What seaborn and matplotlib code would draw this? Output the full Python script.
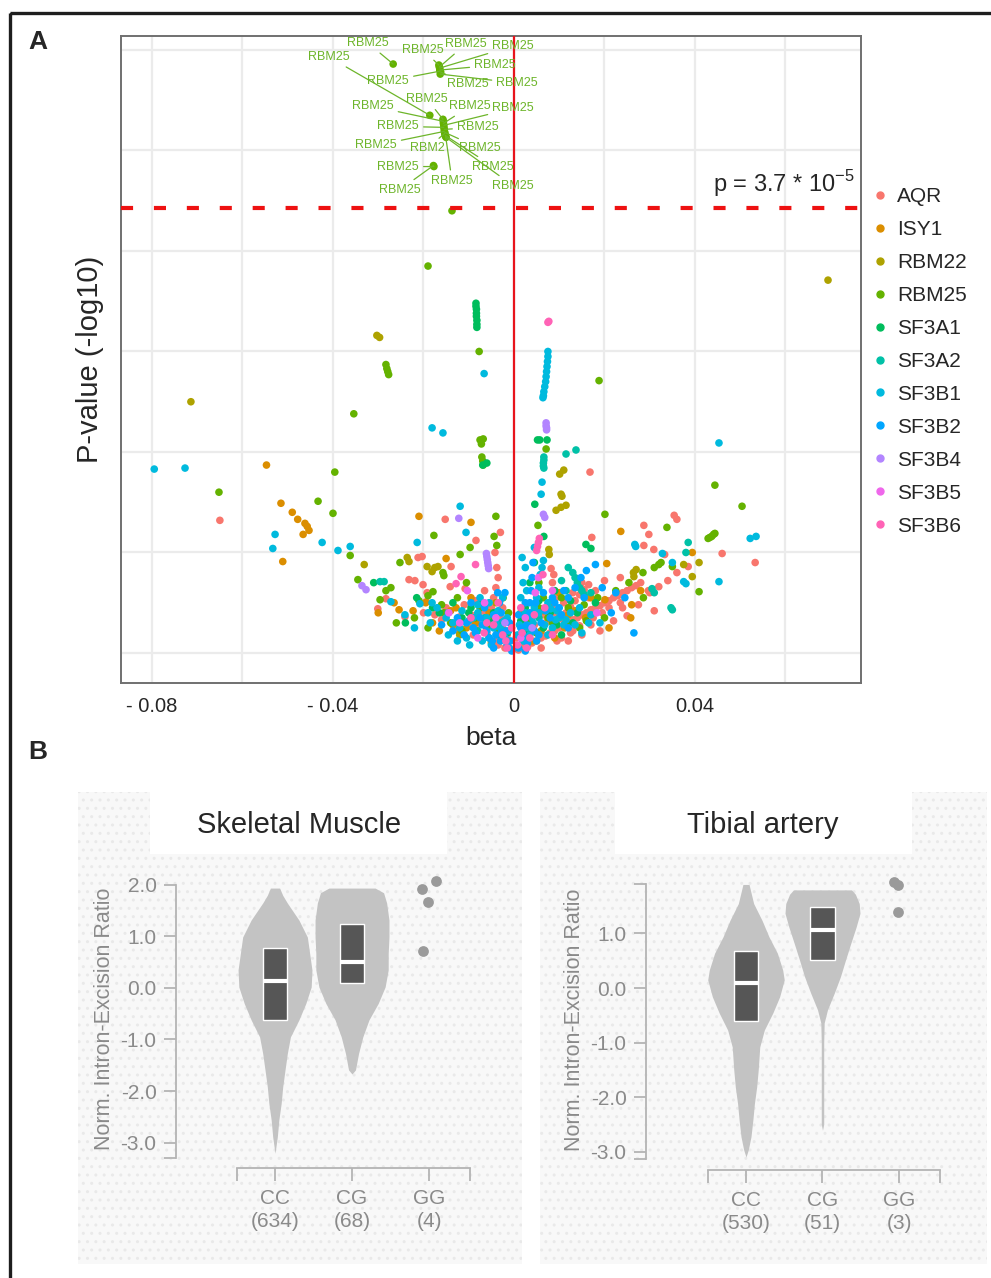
import numpy as np
import pandas as pd
import seaborn as sns
import matplotlib.pyplot as plt
from matplotlib.patches import Rectangle
from matplotlib.lines import Line2D

sns.set_style("white")
plt.rcParams["font.family"] = ["Liberation Sans", "DejaVu Sans"]

# ---------------- panel A data (beta, -log10 p) ----------------
genes = ["AQR", "ISY1", "RBM22", "RBM25", "SF3A1", "SF3A2",
         "SF3B1", "SF3B2", "SF3B4", "SF3B5", "SF3B6"]
gene_colors = ["#F8766D", "#DB8E00", "#AEA200", "#64B200", "#00BD5C", "#00C1A7",
               "#00BADE", "#00A6FF", "#B385FF", "#EF67EB", "#FF63B6"]

AQR = [(-0.065, 1.32), (-0.0152, 1.33), (-0.0084, 1.12), (0.0168, 1.80), (0.0354, 1.37), (0.0360, 1.33),
       (0.0460, 0.99), (0.0533, 0.90), (0.0287, 1.27), (0.0298, 1.18), (0.0287, 1.07), (0.0309, 1.03),
       (0.0172, 1.15), (0.0333, 0.98), (0.0297, 0.62), (-0.0301, 0.44), (-0.0283, 0.54), (-0.0241, 0.36),
       (-0.0232, 0.73), (-0.0219, 0.72), (-0.0212, 0.95), (-0.0203, 0.96), (-0.0201, 0.68), (-0.0192, 0.60),
       (-0.0194, 0.51), (-0.0139, 0.86), (-0.0141, 0.66), (-0.0108, 0.64),
       (0.004, 0.10), (0.006, 0.15), (0.008, 0.20), (0.010, 0.25), (0.012, 0.30), (0.014, 0.35),
       (0.016, 0.40), (0.018, 0.45), (0.020, 0.50), (0.022, 0.55), (0.024, 0.60), (0.026, 0.65), (0.028, 0.70),
       (0.005, 0.12), (0.007, 0.17), (0.009, 0.22), (0.011, 0.27), (0.013, 0.33), (0.015, 0.38),
       (0.017, 0.43), (0.019, 0.47), (0.021, 0.52), (0.023, 0.57), (0.025, 0.62), (0.027, 0.67),
       (0.0105, 0.34), (0.0115, 0.40), (0.0125, 0.46), (0.0135, 0.52), (0.0145, 0.58), (0.0155, 0.63),
       (0.0165, 0.68), (0.0082, 0.84), (0.0088, 0.78), (0.0085, 0.70), (0.0090, 0.62), (0.0093, 0.55),
       (0.0080, 0.50), (-0.004, 0.12), (-0.006, 0.20), (-0.008, 0.28), (-0.003, 0.35), (-0.005, 0.45),
       (-0.0045, 0.55), (-0.004, 0.65), (-0.0035, 0.75), (-0.0038, 0.85), (-0.0042, 1.00), (-0.0030, 1.20),
       (-0.010, 0.30), (-0.012, 0.36), (-0.016, 0.33), (-0.020, 0.40), (-0.009, 0.18), (-0.002, 0.05),
       (0.001, 0.03), (0.002, 0.08), (0.022, 0.32), (0.025, 0.37), (0.019, 0.22), (0.015, 0.18),
       (0.030, 0.60), (0.032, 0.66), (0.034, 0.72), (0.036, 0.80), (0.0385, 0.86), (0.024, 0.45),
       (0.012, 0.12), (0.006, 0.05),
       (0.003, 0.06), (0.005, 0.20), (0.007, 0.30), (0.009, 0.40), (0.011, 0.50), (0.013, 0.60),
       (0.015, 0.70), (0.0165, 0.55), (0.018, 0.62), (0.020, 0.72), (0.017, 0.28), (0.013, 0.22),
       (0.0095, 0.12), (-0.0015, 0.18), (-0.0025, 0.28), (-0.0055, 0.33), (-0.007, 0.42), (-0.0085, 0.52),
       (-0.0035, 0.08), (-0.011, 0.48), (-0.0065, 0.62), (0.0235, 0.75), (0.0275, 0.48), (0.031, 0.42),
       (0.0045, 0.28), (0.0065, 0.38), (0.0085, 0.45), (0.0105, 0.15), (0.0125, 0.20), (0.0145, 0.27),
       (0.0175, 0.35), (0.0195, 0.40), (0.021, 0.45), (0.0235, 0.50), (-0.0025, 0.45), (-0.006, 0.40),
       (-0.0095, 0.38), (-0.013, 0.25), (-0.015, 0.45), (-0.0175, 0.38), (0.0005, 0.15), (0.0018, 0.30)]

ISY1 = [(-0.0547, 1.87), (-0.0515, 1.49), (-0.049, 1.40), (-0.0478, 1.33), (-0.0462, 1.29), (-0.0457, 1.26),
        (-0.0453, 1.22), (-0.0466, 1.18), (-0.0511, 0.91), (-0.021, 1.36), (-0.0095, 1.30), (-0.015, 0.94),
        (-0.0254, 0.43), (-0.0223, 0.42), (-0.0128, 0.45), (-0.0095, 0.55), (-0.030, 0.40), (-0.018, 0.30),
        (0.0236, 1.21), (0.028, 0.62), (0.026, 0.48), (0.0158, 0.35), (0.009, 0.15), (-0.005, 0.10),
        (0.004, 0.12), (-0.012, 0.20), (0.0065, 0.42), (0.0112, 0.25), (0.021, 0.25), (0.0394, 1.00),
        (0.0205, 0.89), (0.0201, 0.53), (0.0258, 0.35),
        (-0.0075, 0.35), (-0.0105, 0.25), (-0.014, 0.42), (-0.0165, 0.22), (0.0025, 0.35), (0.006, 0.22),
        (0.0135, 0.42), (0.017, 0.55), (-0.002, 0.22), (-0.0195, 0.50), (0.010, 0.60), (-0.0265, 0.50),
        (-0.0055, 0.40), (-0.0085, 0.30), (0.0035, 0.22), (0.008, 0.50), (0.012, 0.38), (-0.0135, 0.28)]

RBM22 = [(-0.0714, 2.50), (-0.0303, 3.16), (-0.0297, 3.14), (0.0694, 3.71), (-0.0331, 0.88), (-0.0236, 0.95),
         (-0.0232, 0.91), (-0.0192, 0.86), (-0.0181, 0.81), (-0.0175, 0.85), (-0.0168, 0.86), (0.0104, 1.58),
         (0.0106, 1.56), (0.0101, 1.78), (0.0110, 1.82), (0.0093, 1.42), (0.0104, 1.45), (0.0115, 1.47),
         (0.0077, 1.03), (0.0078, 0.98), (0.0264, 0.80), (0.0265, 0.76), (0.0270, 0.83), (0.0409, 0.90),
         (0.0394, 0.76), (0.0375, 0.88), (-0.0040, 0.50), (0.003, 0.30), (-0.012, 0.18)]

RBM25 = [(-0.0137, 4.40), (-0.019, 3.85), (-0.0283, 2.87), (-0.0281, 2.83), (-0.0279, 2.80), (-0.0277, 2.77),
         (-0.0077, 3.00), (-0.0354, 2.38), (-0.0075, 2.12), (-0.0068, 2.13), (-0.0072, 2.08), (-0.0071, 1.95),
         (-0.0069, 1.91), (-0.0068, 1.87), (-0.0652, 1.60), (-0.0433, 1.51), (-0.0396, 1.80), (-0.040, 1.39),
         (-0.0362, 0.97), (-0.0345, 0.73), (-0.0283, 0.62), (-0.0272, 0.65), (-0.0296, 0.53), (-0.0252, 0.90),
         (-0.0177, 1.17), (-0.0097, 1.05), (-0.0119, 0.98), (-0.004, 1.36), (-0.0044, 1.16), (-0.0038, 1.07),
         (-0.0157, 0.80), (-0.0155, 0.77), (-0.019, 0.57), (-0.0179, 0.61), (0.0188, 2.71), (0.0071, 2.03),
         (0.0053, 1.27), (0.0444, 1.67), (0.0504, 1.46), (0.0201, 1.38), (0.0338, 1.25), (0.0429, 1.14),
         (0.0433, 1.15), (0.0437, 1.16), (0.0441, 1.18), (0.0444, 1.19), (0.0409, 0.61), (0.0310, 0.85),
         (0.0320, 0.88), (0.0325, 0.90), (0.0350, 0.86), (0.0286, 0.55), (0.0254, 0.70), (0.0120, 0.45),
         (0.005, 0.20), (-0.006, 0.25), (-0.014, 0.30), (-0.022, 0.35), (-0.026, 0.30), (0.0145, 0.25),
         (0.020, 0.35), (-0.0024, 0.55), (0.0015, 0.40), (0.0055, 0.70),
         (-0.0035, 0.22), (-0.0085, 0.35), (-0.0125, 0.55), (-0.016, 0.48), (-0.021, 0.52), (0.0035, 0.30),
         (0.0075, 0.35), (0.0105, 0.55), (0.0155, 0.48), (0.0225, 0.62), (-0.0105, 0.70), (0.0065, 0.55),
         (-0.0015, 0.12), (0.0285, 0.80),
         (-0.005, 0.35), (-0.0075, 0.45), (-0.0115, 0.22), (-0.0155, 0.40), (-0.019, 0.25), (0.0025, 0.15),
         (0.0055, 0.45), (0.0085, 0.30), (0.0115, 0.30), (0.016, 0.32), (0.0185, 0.55), (-0.0012, 0.40)]

# labelled RBM25 hits above the threshold
RBM25_TOP = [(-0.0166, 5.85), (-0.0165, 5.83), (-0.0164, 5.82), (-0.0164, 5.80), (-0.0163, 5.79),
             (-0.0162, 5.78), (-0.0163, 5.76),
             (-0.0157, 5.31), (-0.0156, 5.29), (-0.0156, 5.27), (-0.0155, 5.25), (-0.0155, 5.23),
             (-0.0154, 5.21), (-0.0154, 5.19), (-0.0153, 5.18), (-0.0153, 5.17), (-0.0152, 5.15),
             (-0.0151, 5.14), (-0.0150, 5.13),
             (-0.0267, 5.86), (-0.0186, 5.35), (-0.0177, 4.84), (-0.0178, 4.85)]
top_labels = ["RBM25"] * 15 + ["RBM2"] + ["RBM25"] * 7
label_pos = [(-0.0201, 6.00), (-0.0106, 6.06), (-0.0002, 6.04), (-0.0042, 5.85), (-0.0278, 5.69),
             (-0.0102, 5.66), (0.0007, 5.67),
             (-0.0192, 5.51), (-0.0312, 5.44), (-0.0097, 5.44), (-0.0002, 5.42), (-0.0256, 5.24),
             (-0.0080, 5.23), (-0.0305, 5.05), (-0.0075, 5.02), (-0.0192, 5.02), (-0.0046, 4.84),
             (-0.0137, 4.70), (-0.0002, 4.65),
             (-0.0323, 6.07), (-0.0409, 5.93), (-0.0256, 4.84), (-0.0252, 4.61)]

SF3A1 = [(-0.0084, 3.48), (-0.0084, 3.45), (-0.0083, 3.42), (-0.0083, 3.38), (-0.0083, 3.35), (-0.0082, 3.31),
         (-0.0082, 3.27), (-0.0082, 3.24), (-0.0069, 1.87), (-0.0060, 1.89), (0.0057, 2.12), (0.0073, 2.12),
         (0.0052, 2.12), (0.0046, 1.48), (0.0066, 1.16), (0.0159, 1.08), (0.0170, 1.04), (-0.031, 0.70),
         (-0.010, 0.40), (-0.005, 0.30), (0.003, 0.22), (0.008, 0.40), (0.013, 0.30), (0.018, 0.50),
         (-0.018, 0.45), (-0.024, 0.30), (0.0045, 0.90), (0.0035, 0.70), (-0.0015, 0.20),
         (-0.0045, 0.40), (-0.0095, 0.45), (-0.0135, 0.50), (0.0025, 0.45), (0.0065, 0.25), (0.0105, 0.18),
         (0.014, 0.40), (-0.0215, 0.55), (-0.0055, 0.15), (0.009, 0.62),
         (-0.003, 0.18), (-0.007, 0.50), (-0.0115, 0.35), (0.0015, 0.32), (0.0055, 0.52), (0.0095, 0.28),
         (0.0125, 0.52), (-0.0165, 0.40)]

SF3A2 = [(0.0066, 1.95), (0.0066, 1.92), (0.0065, 1.89), (0.0065, 1.86), (0.0066, 1.84), (0.0115, 1.98),
         (0.0137, 2.02), (-0.0296, 0.71), (-0.0287, 0.71), (0.0385, 1.10), (0.0380, 1.00), (0.0305, 0.64),
         (0.0310, 0.60), (0.0347, 0.45), (0.0350, 0.43), (0.0130, 0.80), (0.0135, 0.75), (0.0140, 0.70),
         (0.0145, 0.65), (0.0150, 0.62), (0.0155, 0.58), (-0.003, 0.30), (0.003, 0.15), (-0.008, 0.22),
         (0.0115, 0.62), (0.0105, 0.72), (0.0120, 0.85), (-0.0065, 0.35), (0.0055, 0.35), (0.017, 0.60)]

SF3B1 = [(-0.0795, 1.83), (-0.0727, 1.84), (-0.0528, 1.18), (-0.0533, 1.04), (-0.0424, 1.10), (-0.0389, 1.02),
         (-0.0362, 1.06), (-0.0272, 0.51), (-0.0241, 0.38), (-0.0214, 1.10), (-0.0208, 0.49), (-0.0181, 0.50),
         (-0.0119, 1.46), (-0.0106, 1.20), (-0.0181, 2.24), (-0.0157, 2.19), (-0.0066, 2.78), (0.0075, 3.00),
         (0.0075, 2.95), (0.0074, 2.90), (0.0073, 2.85), (0.0072, 2.80), (0.0071, 2.75), (0.0070, 2.70),
         (0.0068, 2.65), (0.0066, 2.60), (0.0065, 2.56), (0.0064, 2.54), (0.0062, 1.70), (0.0060, 1.58),
         (0.0453, 2.09), (0.0522, 1.14), (0.0535, 1.16), (0.0453, 0.71), (0.0267, 1.08), (0.0269, 1.06),
         (0.0328, 0.99), (0.0375, 0.71), (0.0380, 0.69), (0.0350, 0.90),
         (-0.001, 0.05), (-0.002, 0.15), (-0.003, 0.25), (-0.004, 0.30), (-0.006, 0.35), (-0.008, 0.40),
         (-0.010, 0.32), (-0.012, 0.25), (-0.007, 0.12), (-0.005, 0.08), (0.002, 0.12), (0.003, 0.25),
         (0.004, 0.35), (0.0045, 0.45), (0.005, 0.55), (0.0055, 0.65), (0.0058, 0.78), (0.0062, 0.85),
         (0.0065, 0.92), (0.010, 0.35), (0.011, 0.28), (0.017, 0.38), (0.019, 0.30), (0.015, 0.20),
         (-0.015, 0.35), (-0.019, 0.40), (-0.022, 0.25), (-0.0125, 0.12), (0.0081, 0.44), (0.0092, 0.33),
         (-0.0098, 0.08), (0.0075, 0.18), (0.0015, 0.55), (0.002, 0.70), (0.0025, 0.85),
         (-0.0012, 0.22), (-0.0022, 0.32), (-0.0045, 0.25), (-0.0055, 0.50), (-0.0075, 0.55), (-0.009, 0.35),
         (-0.0115, 0.42), (-0.0135, 0.30), (-0.017, 0.45), (0.0012, 0.28), (0.0025, 0.40), (0.0042, 0.30),
         (0.0068, 0.28), (0.0085, 0.25), (0.0125, 0.40), (0.0135, 0.28), (0.0028, 0.62), (0.0018, 0.95),
         (0.0045, 1.05),
         (-0.0015, 0.35), (-0.0035, 0.42), (-0.0065, 0.28), (-0.0105, 0.15), (-0.0145, 0.18), (-0.0185, 0.30),
         (0.0008, 0.18), (0.0035, 0.18), (0.0055, 0.40), (0.0075, 0.50), (0.0095, 0.42), (0.0115, 0.33),
         (0.0145, 0.45), (0.0165, 0.30), (-0.008, 0.48), (-0.0025, 0.55)]

SF3B2 = [(-0.0005, 0.02), (-0.0015, 0.08), (-0.003, 0.12), (-0.004, 0.18), (-0.006, 0.22), (-0.007, 0.28),
         (-0.009, 0.25), (-0.011, 0.18), (-0.0135, 0.22), (-0.016, 0.28), (0.001, 0.05), (0.002, 0.18),
         (0.003, 0.10), (0.0045, 0.22), (0.006, 0.30), (0.008, 0.35), (0.010, 0.45), (0.012, 0.55),
         (0.0135, 0.65), (0.0148, 0.75), (0.016, 0.82), (0.018, 0.88), (0.0035, 0.40), (0.0035, 0.50),
         (0.0038, 0.62), (0.004, 0.75), (0.0042, 0.90), (-0.0028, 0.40), (-0.0032, 0.50), (-0.0036, 0.60),
         (-0.0065, 0.45), (-0.0095, 0.50), (-0.0145, 0.40), (0.0245, 0.55), (0.0265, 0.20), (0.005, 0.12),
         (0.0215, 0.40),
         (-0.0008, 0.12), (-0.0018, 0.22), (-0.0048, 0.12), (-0.0085, 0.20), (0.0015, 0.25), (0.0055, 0.18),
         (0.007, 0.42), (0.009, 0.50), (0.011, 0.62), (-0.0045, 0.38), (0.0025, 0.50), (-0.002, 0.60),
         (0.0195, 0.65), (0.0225, 0.60),
         (-0.001, 0.30), (-0.0028, 0.20), (-0.0055, 0.15), (-0.0075, 0.35), (-0.0105, 0.30), (-0.0125, 0.35),
         (0.001, 0.38), (0.0028, 0.28), (0.0048, 0.50), (0.0065, 0.60), (0.0085, 0.55), (0.0105, 0.38),
         (0.012, 0.25), (0.0155, 0.55), (-0.0045, 0.05), (0.0025, 0.02)]

SF3B4 = [(-0.0336, 0.67), (-0.0327, 0.63), (-0.0122, 1.34), (-0.0061, 0.99), (-0.0060, 0.96), (-0.0059, 0.93),
         (-0.0058, 0.90), (-0.0057, 0.87), (-0.0056, 0.84), (0.0071, 2.29), (0.0071, 2.26), (0.0072, 2.24),
         (0.0072, 2.22), (0.0065, 1.38), (0.0068, 1.35), (-0.002, 0.30), (0.004, 0.25)]

SF3B5 = [(-0.0144, 0.40), (-0.0103, 0.62), (0.0183, 0.40), (-0.004, 0.35), (0.0015, 0.15), (-0.008, 0.15),
         (0.0047, 0.60), (0.0054, 0.75), (-0.0120, 0.30), (-0.0065, 0.50), (0.0025, 0.35), (0.0085, 0.62)]

SF3B6 = [(0.0075, 3.29), (0.0077, 3.30), (-0.0117, 0.76), (-0.0128, 0.69), (0.0050, 1.02), (0.0052, 1.06),
         (0.0054, 1.10), (0.0056, 1.14), (0.0064, 0.78), (-0.0085, 0.88), (-0.0015, 0.05), (0.0008, 0.08),
         (-0.0018, 0.12), (0.0035, 0.15), (0.0068, 0.45), (-0.0066, 0.20), (-0.0005, 0.25),
         (-0.0025, 0.18), (0.0018, 0.20), (-0.0045, 0.28), (0.0028, 0.05),
         (-0.006, 0.30), (-0.0095, 0.35), (0.0045, 0.38), (0.0085, 0.18), (-0.0035, 0.50), (0.0015, 0.45)]

threshold = -np.log10(3.7e-5)
x_ticks = [-0.08, -0.04, 0, 0.04]
x_ticklabels = ["- 0.08", "- 0.04", "0", "0.04"]

# ---------------- panel B data ----------------
genotypes = ["CC", "CG", "GG"]
sm_counts = [634, 68, 4]
ta_counts = [530, 51, 3]

# violin outlines (value, half width)
sm_cc_y = [1.94, 1.80, 1.65, 1.32, 0.99, 0.67, 0.35, 0.02, -0.30, -0.62, -0.95, -1.27, -1.59, -1.92, -2.24, -2.56, -2.89, -3.21]
sm_cc_w = [0.06, 0.10, 0.16, 0.31, 0.42, 0.45, 0.48, 0.47, 0.40, 0.31, 0.20, 0.16, 0.13, 0.10, 0.08, 0.05, 0.03, 0.0]
sm_cg_y = [1.94, 1.85, 1.65, 1.32, 0.99, 0.67, 0.35, 0.02, -0.30, -0.62, -0.95, -1.27, -1.59, -1.67]
sm_cg_w = [0.30, 0.41, 0.45, 0.48, 0.48, 0.47, 0.47, 0.43, 0.34, 0.22, 0.14, 0.085, 0.045, 0.0]
ta_cc_y = [1.90, 1.55, 1.24, 0.94, 0.64, 0.33, 0.15, -0.16, -0.46, -0.77, -1.08, -1.50, -1.81, -2.12, -2.42, -2.73, -2.97, -3.10]
ta_cc_w = [0.04, 0.10, 0.21, 0.30, 0.41, 0.48, 0.50, 0.44, 0.35, 0.24, 0.18, 0.16, 0.14, 0.11, 0.09, 0.065, 0.03, 0.0]
ta_cg_y = [1.80, 1.72, 1.55, 1.37, 1.12, 0.82, 0.51, 0.21, -0.09, -0.40, -0.64, -1.00, -2.50, -2.61]
ta_cg_w = [0.38, 0.43, 0.48, 0.49, 0.44, 0.37, 0.30, 0.235, 0.155, 0.065, 0.022, 0.016, 0.016, 0.0]

sm_q1, sm_med, sm_q3 = [-0.63, 0.10], [0.14, 0.51], [0.78, 1.24]
ta_q1, ta_med, ta_q3 = [-0.60, 0.51], [0.10, 1.06], [0.67, 1.49]

sm_gg_x, sm_gg_y = [1.91, 2.09, 1.99, 1.92], [1.92, 2.07, 1.66, 0.72]
ta_gg_x, ta_gg_y = [1.94, 1.99, 1.99], [1.94, 1.89, 1.40]

# ---------------- figure ----------------
W, H = 991, 1278
fig = plt.figure(figsize=(W / 100, H / 100), dpi=100)

def fx(px):
    return px / W

def fy(py):
    return 1 - py / H

# background layer in pixel coordinates
bg = fig.add_axes([0, 0, 1, 1], zorder=-1)
bg.set_xlim(0, W)
bg.set_ylim(H, 0)
bg.axis("off")
bg.add_patch(Rectangle((10, 13), 1100, 1400, fill=False, lw=2.4, edgecolor="#1e1e1e"))
for x0, x1 in [(78, 522), (540, 987)]:
    bg.add_patch(Rectangle((x0, 792), x1 - x0, 472, facecolor="#f8f8f8", edgecolor="#e9e9e9",
                           hatch="..", lw=0))
for x0, x1 in [(150, 447), (615, 912)]:
    bg.add_patch(Rectangle((x0, 792), x1 - x0, 62, facecolor="white", lw=0))

fig.text(fx(38), fy(42), "A", fontsize=19, fontweight="bold", ha="center", va="center")
fig.text(fx(38), fy(752), "B", fontsize=19, fontweight="bold", ha="center", va="center")

# ---------------- panel A ----------------
axA = fig.add_axes([fx(121), fy(683), fx(861) - fx(121), fy(36) - fy(683)])

rows = []
for g, pts in zip(genes, [AQR, ISY1, RBM22, RBM25 + RBM25_TOP, SF3A1, SF3A2,
                          SF3B1, SF3B2, SF3B4, SF3B5, SF3B6]):
    for b, p in pts:
        rows.append((g, b, p))
df = pd.DataFrame(rows, columns=["gene", "beta", "logp"])

sns.scatterplot(data=df, x="beta", y="logp", hue="gene", hue_order=genes,
                palette=gene_colors, s=30, linewidth=0, legend=False, ax=axA, zorder=2)

for txt, pt, pos in zip(top_labels, RBM25_TOP, label_pos):
    axA.annotate(txt, xy=pt, xytext=pos, ha="center", va="center", fontsize=9, color="#6db52a",
                 arrowprops=dict(arrowstyle="-", color="#6db52a", lw=0.9, shrinkA=1, shrinkB=0),
                 zorder=4)

axA.axvline(0, color="#e8141c", lw=1.6, zorder=3)
axA.axhline(threshold, color="#ee1111", lw=3, linestyle=(0, (2.9, 5.0)), zorder=3)
axA.text(0.0754, 4.59, "p = 3.7 * 10$^{\\mathregular{-5}}$", ha="right", va="baseline", fontsize=17)

axA.set_xlim(-0.08685, 0.07669)
axA.set_ylim(-0.2985, 6.139)
axA.set_xticks(x_ticks, x_ticklabels)
axA.set_xticks([-0.06, -0.02, 0.02, 0.06], minor=True)
axA.set_yticks([0, 1, 2, 3, 4, 5, 6], [""] * 7)
axA.grid(which="both", color="#ebebeb", lw=1.6)
axA.set_axisbelow(True)
axA.tick_params(which="both", length=0, labelsize=14.5, pad=10)
for s in axA.spines.values():
    s.set_color("#707070")
    s.set_linewidth(1.4)
axA.set_xlabel("beta", fontsize=19, labelpad=7)
axA.set_ylabel("P-value (-log10)", fontsize=21, labelpad=2)

handles = [Line2D([], [], marker="o", ls="", color=c, markersize=5) for c in gene_colors]
fig.legend(handles, genes, loc="upper left", bbox_to_anchor=(fx(873), fy(187)), frameon=False,
           fontsize=15, handlelength=0.7, handletextpad=0.45, labelspacing=0.67,
           borderaxespad=0, borderpad=0)

# ---------------- panel B ----------------
def panel_b(rect, xlim, ylim, ybounds, yticks, counts, profiles, q1, med, q3, gg_x, gg_y, title, title_x):
    ax = fig.add_axes(rect)
    ax.set_facecolor("none")
    for (ys, ws), pos in zip(profiles, [0, 1]):
        ws = np.array(ws)
        ax.fill_betweenx(ys, pos - ws, pos + ws, color="#c3c3c3", lw=0, zorder=1)
    ax.bar([0, 1], np.array(q3) - np.array(q1), bottom=q1, width=0.32, color="#565656", zorder=2)
    ax.hlines(med, np.array([0, 1]) - 0.16, np.array([0, 1]) + 0.16, color="white", lw=3, zorder=3)
    sns.scatterplot(x=gg_x, y=gg_y, color="#9a9a9a", s=60, linewidth=0, ax=ax, zorder=2)
    ax.set_xlim(*xlim)
    ax.set_ylim(*ylim)
    for s in ["top", "right"]:
        ax.spines[s].set_visible(False)
    for s in ["left", "bottom"]:
        ax.spines[s].set_color("#b4b4b4")
        ax.spines[s].set_linewidth(1.3)
    ax.spines["left"].set_bounds(*ybounds)
    ax.spines["bottom"].set_bounds(-0.5, 2.53)
    ax.set_yticks(yticks, [f"{v:.1f}" for v in yticks])
    ax.set_yticks(list(ybounds), minor=True)
    ax.set_xticks([0, 1, 2], [f"{g}\n({n})" for g, n in zip(genotypes, counts)])
    ax.set_xticks([-0.5, 2.53], minor=True)
    ax.tick_params(which="both", left=True, bottom=True, length=9, width=1.3, color="#b4b4b4")
    ax.tick_params(axis="y", labelsize=15, labelcolor="#8a8a8a", pad=5)
    ax.tick_params(axis="x", labelsize=15, labelcolor="#8a8a8a", pad=6)
    for t in ax.get_xticklabels():
        t.set_linespacing(1.3)
    ax.set_ylabel("Norm. Intron-Excision Ratio", fontsize=15.5, color="#8a8a8a")
    ax.yaxis.set_label_coords(-0.188, 0.5)
    fig.text(fx(title_x), fy(825), title, fontsize=21, ha="center", va="center")
    return ax

panel_b([fx(176), fy(1168), 324 / W, (1168 - 870) / H], (-1.286, 2.922), (-3.495, 2.291),
        (-3.30, 2.0), [2.0, 1.0, 0.0, -1.0, -2.0, -3.0], sm_counts,
        [(sm_cc_y, sm_cc_w), (sm_cg_y, sm_cg_w)], sm_q1, sm_med, sm_q3, sm_gg_x, sm_gg_y,
        "Skeletal Muscle", 299)
panel_b([fx(646), fy(1170), 324 / W, (1170 - 870) / H], (-1.307, 2.928), (-3.339, 2.165),
        (-3.138, 1.908), [1.0, 0.0, -1.0, -2.0, -3.0], ta_counts,
        [(ta_cc_y, ta_cc_w), (ta_cg_y, ta_cg_w)], ta_q1, ta_med, ta_q3, ta_gg_x, ta_gg_y,
        "Tibial artery", 763)

fig.savefig("out.png", dpi=100)
